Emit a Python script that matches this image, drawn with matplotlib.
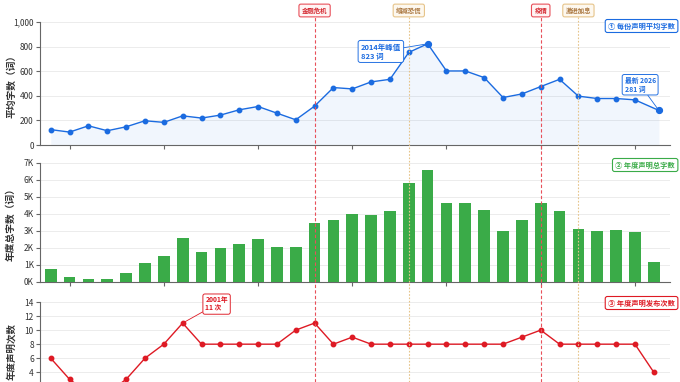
import matplotlib
matplotlib.use("Agg")
import matplotlib.pyplot as plt
from matplotlib.lines import Line2D
from matplotlib.transforms import blended_transform_factory
from matplotlib.ticker import FuncFormatter, MultipleLocator

plt.rcParams['font.family'] = ['Noto Sans CJK SC', 'DejaVu Sans']

# ---------------- data ----------------
years = list(range(1994, 2027))
# x position of the average-length points (latest 2026 point is a partial-year date)
avg_x = list(range(1994, 2026)) + [2026.27]
avg_words = [125, 105, 156, 116, 148, 197, 184, 237, 219, 243, 286, 313, 259, 205,
             316, 467, 456, 513, 534, 753, 823, 602, 602, 548, 386, 415, 475, 534,
             397, 378, 378, 367, 281]
total_words_k = [0.76, 0.26, 0.14, 0.14, 0.51, 1.12, 1.49, 2.59, 1.75, 1.96, 2.24, 2.51,
                 2.02, 2.02, 3.43, 3.63, 3.98, 3.92, 4.14, 5.79, 6.57, 4.65, 4.65, 4.24,
                 2.96, 3.61, 4.61, 4.16, 3.10, 2.96, 3.04, 2.92, 1.18]
counts = [6, 3, 1, 1, 3, 6, 8, 11, 8, 8, 8, 8, 8, 10, 11, 8, 9, 8, 8, 8, 8, 8, 8, 8,
          8, 9, 10, 8, 8, 8, 8, 8, 4]
count_ticks = [4, 6, 8, 10, 12, 14]
events = [(2008, "金融危机", "crisis"), (2013, "缩减恐慌", "policy"),
          (2020, "疫情", "crisis"), (2022, "激进加息", "policy")]

BLUE = '#1b6be0'
GREEN = '#3aab48'
RED = '#de1a24'
GRID = '#ececec'
AX = '#666666'

W, H = 680, 382
fig = plt.figure(figsize=(W / 100, H / 100), dpi=100)


def rect(l, t, r, b):
    return [l / W, (H - b) / H, (r - l) / W, (b - t) / H]


ax1 = fig.add_axes(rect(40, 22, 670, 145))
ax2 = fig.add_axes(rect(40, 162.7, 670, 281.7))
ax3 = fig.add_axes(rect(40, 302, 670, 400.4))

xlim = (1993.43, 2026.86)
for ax in (ax1, ax2, ax3):
    ax.set_xlim(*xlim)
    for s in ('top', 'right'):
        ax.spines[s].set_visible(False)
    for s in ('left', 'bottom'):
        ax.spines[s].set_color(AX)
        ax.spines[s].set_linewidth(0.8)
    ax.set_xticks(range(1995, 2026, 5))
    ax.tick_params(axis='x', labelbottom=False, length=3, color=AX, width=0.8)
    ax.tick_params(axis='y', labelsize=6, length=3, color=AX, width=0.8,
                   labelcolor='#333333', pad=1.5)
    ax.grid(axis='y', color=GRID, linewidth=0.7)
    ax.set_axisbelow(True)

label_x = (16 - 40) / 630

# panel 1
ax1.set_ylim(0, 1000)
ax1.yaxis.set_major_locator(MultipleLocator(200))
ax1.yaxis.set_major_formatter(FuncFormatter(lambda v, p: f"{int(v):,}"))
ax1.fill_between(avg_x, avg_words, 0, color=BLUE, alpha=0.06, lw=0)
ax1.plot(avg_x, avg_words, color=BLUE, lw=1.0, marker='o', ms=3.2, zorder=3)
ipk = avg_words.index(max(avg_words))
ax1.plot([avg_x[ipk]], [avg_words[ipk]], 'o', color=BLUE, ms=4.2, zorder=4)
ax1.plot([avg_x[-1]], [avg_words[-1]], 'o', color=BLUE, ms=4.2, zorder=4)
ax1.set_ylabel("平均字数（词）", fontsize=7, fontweight='bold', color='#333333')
ax1.yaxis.set_label_coords(label_x, 0.5)

bbox_b = dict(boxstyle='round,pad=0.35,rounding_size=0.3', fc='white', ec=BLUE, lw=0.7, alpha=0.95)
ax1.annotate(f"{avg_x[ipk]}年峰值\n{avg_words[ipk]} 词", xy=(avg_x[ipk], avg_words[ipk]),
             xytext=(2010.45, 760), fontsize=5.4, color=BLUE, fontweight='bold',
             va='center', ha='left', bbox=bbox_b, linespacing=1.3,
             arrowprops=dict(arrowstyle='-', color=BLUE, lw=0.6, shrinkA=0, shrinkB=2))
ax1.annotate(f"最新 {years[-1]}\n{avg_words[-1]} 词", xy=(avg_x[-1], avg_words[-1]),
             xytext=(2024.45, 490), fontsize=4.9, color=BLUE, fontweight='bold',
             va='center', ha='left', bbox=bbox_b, linespacing=1.25,
             arrowprops=dict(arrowstyle='-', color=BLUE, lw=0.6, shrinkA=0, shrinkB=2))

# panel 2
ax2.set_ylim(0, 7000)
ax2.yaxis.set_major_locator(MultipleLocator(1000))
ax2.yaxis.set_major_formatter(FuncFormatter(lambda v, p: f"{int(round(v / 1000))}K"))
ax2.bar(years, [v * 1000 for v in total_words_k], width=0.62, color=GREEN, zorder=3)
ax2.set_ylabel("年度总字数（词）", fontsize=7, fontweight='bold', color='#333333')
ax2.yaxis.set_label_coords(label_x, 0.5)

# panel 3
ax3.set_ylim(0, 14)
ax3.set_yticks(count_ticks)
ax3.plot(years, counts, color=RED, lw=1.0, marker='o', ms=3.2, zorder=3)
ax3.set_ylabel("年度声明次数", fontsize=6.8, fontweight='bold', color='#333333')
ax3.yaxis.set_label_coords(label_x, 0.5)
imx = counts.index(max(counts))
bbox_r = dict(boxstyle='round,pad=0.35,rounding_size=0.3', fc='white', ec=RED, lw=0.7, alpha=0.95)
ax3.annotate(f"{years[imx]}年\n{counts[imx]} 次", xy=(years[imx], counts[imx]),
             xytext=(2002.2, 13.7), fontsize=4.9, color=RED, fontweight='bold',
             va='center', ha='left', bbox=bbox_r, linespacing=1.25,
             arrowprops=dict(arrowstyle='-', color=RED, lw=0.6, shrinkA=0, shrinkB=2))

# panel titles
def panel_title(text, color, y_px):
    fig.text(675 / W, (H - y_px) / H, text, fontsize=5.2, color=color, fontweight='bold',
             ha='right', va='center',
             bbox=dict(boxstyle='round,pad=0.4,rounding_size=0.3', fc='white', ec=color, lw=0.8))

panel_title("① 每份声明平均字数", BLUE, 26)
panel_title("② 年度声明总字数", GREEN, 165)
panel_title("③ 年度声明发布次数", RED, 303)

# event lines
trans = blended_transform_factory(ax1.transData, fig.transFigure)
for yr, label, kind in events:
    if kind == 'crisis':
        lc, ls, tc, fc = '#e8505a', (0, (3, 2)), '#d42a32', '#fff4f4'
    else:
        lc, ls, tc, fc = '#e6c48a', (0, (1.5, 1.5)), '#a8743c', '#fdf8ef'
    fig.add_artist(Line2D([yr, yr], [0, (H - 17) / H], transform=trans, color=lc,
                          ls=ls, lw=0.8, zorder=5))
    fig.text(yr, (H - 10.5) / H, label, transform=trans, fontsize=4.6, color=tc,
             fontweight='bold', ha='center', va='center', zorder=6,
             bbox=dict(boxstyle='round,pad=0.45,rounding_size=0.3', fc=fc, ec=lc, lw=0.8))

fig.savefig("out.png", dpi=100)
